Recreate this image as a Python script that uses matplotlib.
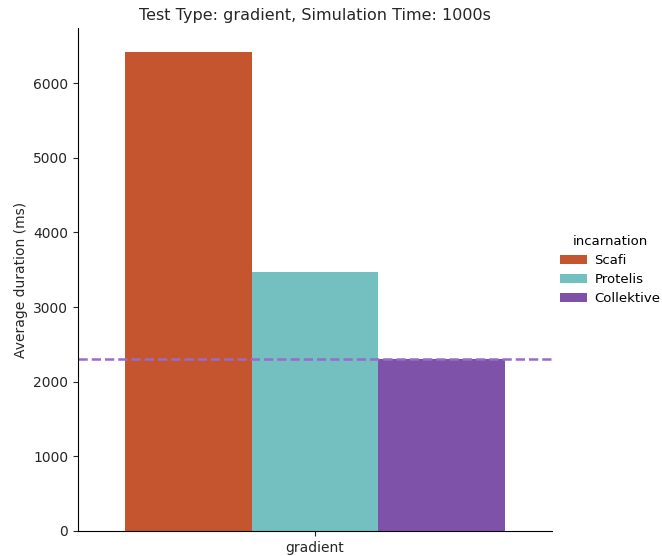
import numpy as np
import matplotlib
matplotlib.use("Agg")
import matplotlib.pyplot as plt

# data
test_types = ["gradient"]
incarnations = ["Scafi", "Protelis", "Collektive"]
durations = [6415, 3465, 2300]
collektive_ref = 2300
colors = ["#C4552F", "#74BFC0", "#7E52A9"]

fig = plt.figure(figsize=(6.62, 5.56), dpi=100)
ax = fig.add_axes([78 / 662, 1 - 531 / 556, 474 / 662, 503 / 556])

width = 0.8 / len(incarnations)
for i, (name, val, c) in enumerate(zip(incarnations, durations, colors)):
    ax.bar(0 - 0.4 + width * (i + 0.5), val, width=width, color=c, label=name)

ax.axhline(collektive_ref, color="#9A6BCB", linestyle="--", linewidth=1.8)

ax.set_xlim(-0.5, 0.5)
ax.set_ylim(0, 6740)
ax.set_xticks([0])
ax.set_xticklabels(test_types)
ax.set_yticks(np.arange(0, 7000, 1000))
ax.tick_params(labelsize=10, colors="#262626")
ax.set_ylabel("Average duration (ms)", fontsize=10, color="#262626")
ax.set_title("Test Type: gradient, Simulation Time: 1000s", fontsize=11.5, color="#262626")
for s in ["top", "right"]:
    ax.spines[s].set_visible(False)

leg = fig.legend(title="incarnation", frameon=False, fontsize=9.5, title_fontsize=9.5,
                 loc="center left", bbox_to_anchor=(555 / 662, 1 - 270 / 556),
                 borderaxespad=0, handletextpad=0.6, labelspacing=0.45)

fig.savefig("out.png", dpi=100)
